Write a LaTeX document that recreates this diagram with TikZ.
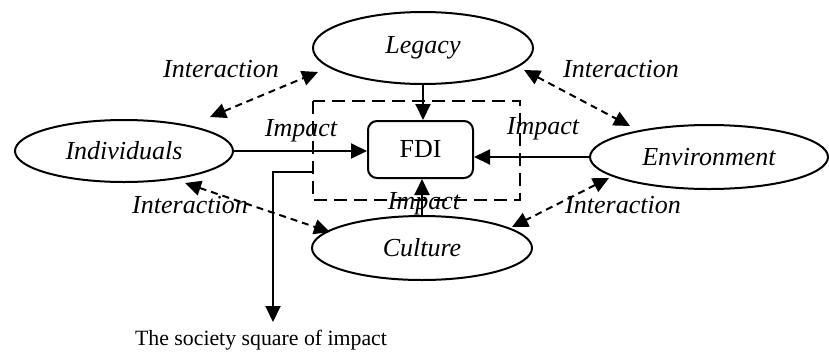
\documentclass[tikz,border=0pt]{standalone}
\usepackage{fontspec}
\setmainfont{Liberation Serif}
\usetikzlibrary{arrows.meta,shapes.geometric}
\begin{document}
\begin{tikzpicture}[x=1pt,y=-1pt,
  ell/.style={draw,line width=2pt,ellipse,inner sep=0pt},
  lbl/.style={font=\fontsize{26}{28}\selectfont\itshape,inner sep=0pt},
  tip/.style={-{Triangle[length=16pt,width=15pt]}},
  solidln/.style={line width=2pt,tip},
  dashln/.style={line width=2pt,dash pattern=on 7pt off 5pt,{Triangle[length=16pt,width=15pt]}-{Triangle[length=16pt,width=15pt]}}]
\useasboundingbox (0,0) rectangle (829,354);
% dashed square
\draw[line width=2.6pt,dash pattern=on 13pt off 7pt] (313,101) rectangle (520,200);
\node[ell,minimum width=220pt,minimum height=72pt] (leg) at (423,48) {};
\node[lbl] at (leg) {Legacy};
\node[ell,minimum width=218pt,minimum height=62pt] (ind) at (124,151) {};
\node[lbl] at (ind) {Individuals};
\node[ell,minimum width=238pt,minimum height=64pt] (env) at (709,157) {};
\node[lbl] at (env) {Environment};
\node[ell,minimum width=220pt,minimum height=64pt] (cul) at (422,248) {};
\node[lbl] at (cul) {Culture};
\node[draw,line width=2pt,rounded corners=9pt,minimum width=105pt,minimum height=57pt,font=\fontsize{26}{28}\selectfont] (fdi) at (420.5,149.5) {FDI};
% solid arrows
\draw[solidln] (leg.south) -- (fdi.north -| leg.south);
\draw[solidln] (cul.north) -- (fdi.south -| cul.north);
\draw[solidln] (ind.east) -- (fdi.west |- ind.east);
\draw[solidln] (env.west) -- (fdi.east |- env.west);
\node[lbl] at (301,131) {Impact};
\node[lbl] at (543,129) {Impact};
\node[lbl] at (424,204) {Impact};
% society square arrow
\coordinate (sq) at (313,172);
\coordinate (sqd) at (273,322);
\draw[solidln] (sq) -| (sqd);
\node[font=\fontsize{21.8}{24}\selectfont,inner sep=0pt] (soc) at (261,340) {The society square of impact};
% interaction arrows
\coordinate (a1) at (210,117); \coordinate (a2) at (318,72);
\coordinate (b1) at (524,70); \coordinate (b2) at (630,126);
\coordinate (c1) at (185,183); \coordinate (c2) at (330,232);
\coordinate (d1) at (609,178); \coordinate (d2) at (512,227);
\draw[dashln] (a1) -- (a2);
\draw[dashln] (b1) -- (b2);
\draw[dashln] (c1) -- (c2);
\draw[dashln] (d1) -- (d2);
\node[lbl] at (221,69) {Interaction};
\node[lbl] at (621,69) {Interaction};
\node[lbl] at (190,205) {Interaction};
\node[lbl] at (623,205) {Interaction};
\end{tikzpicture}
\end{document}
